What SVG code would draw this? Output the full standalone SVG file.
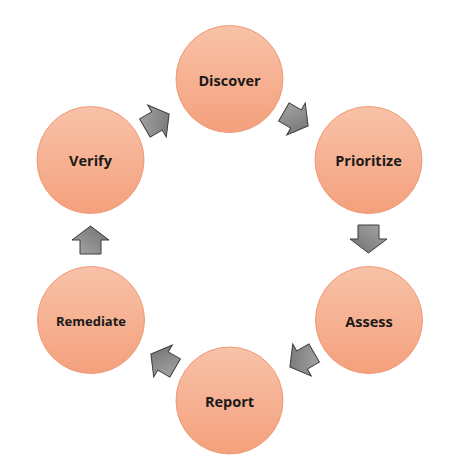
<svg xmlns="http://www.w3.org/2000/svg" width="474" height="474" viewBox="0 0 474 474">
<defs>
<linearGradient id="cg" x1="0" y1="0" x2="0" y2="1">
<stop offset="0" stop-color="#f8c2a8"/>
<stop offset="1" stop-color="#f4a07c"/>
</linearGradient>
<linearGradient id="ag" x1="0" y1="0" x2="1" y2="1">
<stop offset="0" stop-color="#a8a8a8"/>
<stop offset="1" stop-color="#6e6e6e"/>
</linearGradient>
<path id="arr" d="M-14,-10.5 L0,-10.5 L0,-18.5 L14,0 L0,18.5 L0,10.5 L-14,10.5 Z"/>
<style>
.node circle{fill:url(#cg);stroke:#f09a78;stroke-width:1}
.node text{font-family:"Open Sans","Liberation Sans",sans-serif;font-weight:bold;font-size:14.5px;fill:#1a1a1a;text-anchor:middle;dominant-baseline:central}
.conn use{fill:url(#ag);stroke:#3c3c3c;stroke-width:1}
</style>
</defs>
<rect width="474" height="474" fill="#ffffff"/>
<g id="connectors" class="conn">
<use href="#arr" transform="translate(157,121) rotate(-30)"/>
<use href="#arr" transform="translate(296,119) rotate(30)"/>
<use href="#arr" transform="translate(368.5,239) rotate(90)"/>
<use href="#arr" transform="translate(302,360) rotate(150)"/>
<use href="#arr" transform="translate(163,361) rotate(210)"/>
<use href="#arr" transform="translate(90.5,240) rotate(-90)"/>
</g>
<g id="discover" class="node"><circle cx="229.5" cy="79" r="53.5"/><text x="229.5" y="80">Discover</text></g>
<g id="prioritize" class="node"><circle cx="368.5" cy="160" r="53.5"/><text x="368.5" y="160">Prioritize</text></g>
<g id="assess" class="node"><circle cx="369" cy="320" r="53.5"/><text x="369" y="321">Assess</text></g>
<g id="report" class="node"><circle cx="229.5" cy="400.5" r="53.5"/><text x="229.5" y="401">Report</text></g>
<g id="remediate" class="node"><circle cx="91" cy="320" r="53.5"/><text x="91" y="321" style="font-size:13px">Remediate</text></g>
<g id="verify" class="node"><circle cx="90.5" cy="160" r="53.5"/><text x="90.5" y="160">Verify</text></g>
</svg>
